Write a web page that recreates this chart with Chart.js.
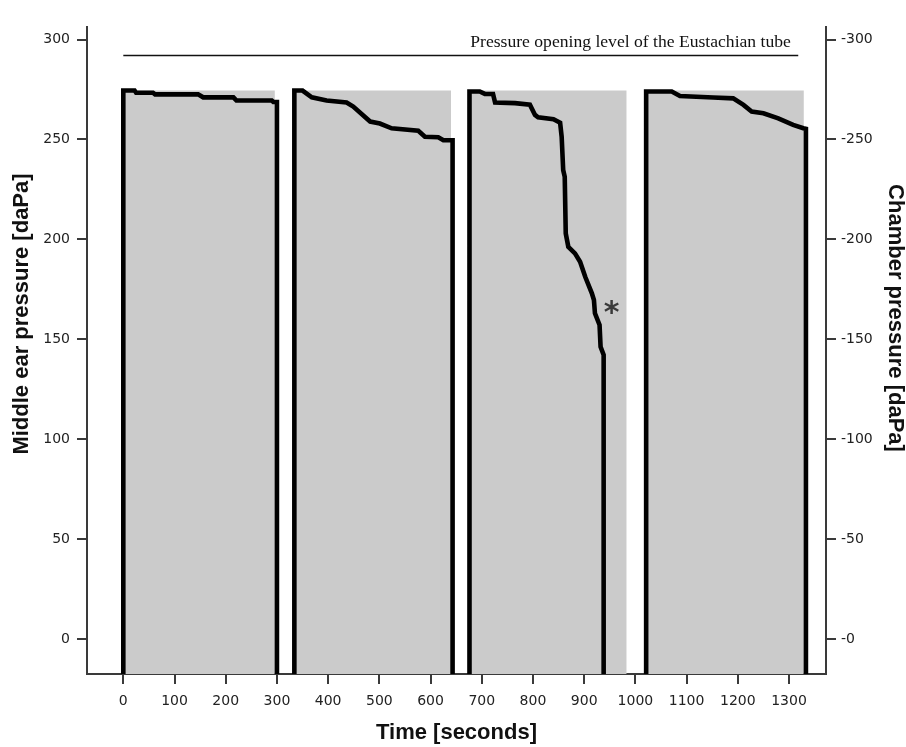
<!DOCTYPE html>
<html>
<head>
<meta charset="utf-8">
<script src="https://cdn.jsdelivr.net/npm/chart.js@4.4.1/dist/chart.umd.min.js"></script>
<style>
html,body{margin:0;padding:0;background:#ffffff;}
#wrap{width:906px;height:747px;position:relative;}
canvas{display:block;}
</style>
</head>
<body>
<div id="wrap"><canvas id="c" width="906" height="747"></canvas></div>
<script>
// ---- axis ranges & tick labels ----
const AXIS_FLOOR = -17.5;            // bottom of the pressure axis
const AXIS_CEIL = 306.3;
const TIME_MIN = -70.9;
const TIME_MAX = 1372.2;
const leftTicks = [0, 50, 100, 150, 200, 250, 300];
const rightTickLabels = ['-0', '-50', '-100', '-150', '-200', '-250', '-300'];
const timeTicks = [0, 100, 200, 300, 400, 500, 600, 700, 800, 900, 1000, 1100, 1200, 1300];

// ---- chamber pressure phases (grey blocks) ----
const phaseStart = [0, 334, 676, 1021];
const phaseEnd = [296, 640, 983, 1329];
const phaseLevel = 274.5;

// ---- middle ear pressure curves (4 runs) ----
const run1Time = [0, 0, 22, 25, 58, 62, 146, 156, 215, 221, 290, 293, 300, 300];
const run1Pressure = [AXIS_FLOOR, 274.5, 274.5, 273.4, 273.4, 272.6, 272.6, 271.1, 271.1, 269.5, 269.5, 268.8, 268.8, AXIS_FLOOR];

const run2Time = [334, 334, 350, 368, 397, 436, 449, 482, 501, 524, 576, 589, 615, 625, 643, 643];
const run2Pressure = [AXIS_FLOOR, 274.5, 274.5, 271.1, 269.5, 268.5, 266.5, 259, 258, 255.6, 254.4, 251.4, 251.1, 249.6, 249.6, AXIS_FLOOR];

const run3Time = [676, 676, 696, 706, 722, 726, 765, 794, 804, 810, 840, 853, 856, 859, 862, 864, 869, 882, 892, 902, 915, 919, 921, 930, 932, 938, 938];
const run3Pressure = [AXIS_FLOOR, 274, 274, 272.8, 272.8, 268.5, 268.2, 267.4, 262.3, 261.1, 260.1, 258.4, 251.4, 234.7, 231.4, 203, 196.3, 193, 188.8, 181.3, 173, 169.7, 163, 157.2, 146.3, 142.2, AXIS_FLOOR];

const run4Time = [1021, 1021, 1071, 1087, 1152, 1191, 1211, 1227, 1250, 1279, 1308, 1328, 1333, 1333];
const run4Pressure = [AXIS_FLOOR, 274, 274, 271.8, 271, 270.6, 267.3, 264, 263.1, 260.6, 257.3, 255.6, 255.3, AXIS_FLOOR];

// ---- Eustachian tube opening level ----
const openingLevel = 292;
const openingLineTime = [0, 1318];
const openingLabel = 'Pressure opening level of the Eustachian tube';
const openingLabelTime = 1303.5;
const openingLabelPressure = 296.4;

// ---- significance marker ----
const markerTime = 954;
const markerPressure = 166;

const yTitle = 'Middle ear pressure [daPa]';
const y2Title = 'Chamber pressure [daPa]';
const xTitle = 'Time [seconds]';

function pts(xs, ys) { return xs.map((x, i) => ({x: x, y: ys[i]})); }

const datasets = [];
const runs = [[run1Time, run1Pressure], [run2Time, run2Pressure], [run3Time, run3Pressure], [run4Time, run4Pressure]];
runs.forEach(r => {
  datasets.push({
    type: 'line', data: pts(r[0], r[1]), borderColor: '#000000', borderWidth: 4.6,
    pointRadius: 0, fill: false, tension: 0, order: 1, clip: 0,
    borderJoinStyle: 'miter', borderCapStyle: 'butt'
  });
});
datasets.push({
  type: 'line', data: pts(openingLineTime, [openingLevel, openingLevel]),
  borderColor: '#111111', borderWidth: 1.5, pointRadius: 0, fill: false, order: 1
});
phaseStart.forEach((s, i) => {
  datasets.push({
    type: 'line', data: pts([s, phaseEnd[i]], [phaseLevel, phaseLevel]),
    borderWidth: 0, borderColor: 'rgba(0,0,0,0)', backgroundColor: '#cbcbcb',
    pointRadius: 0, fill: 'start', order: 5
  });
});

const overlay = {
  id: 'overlay',
  afterDraw(chart) {
    const ctx = chart.ctx;
    const xs = chart.scales.x, ys = chart.scales.y;
    ctx.save();
    // opening level label
    ctx.font = '17.6px "Liberation Serif", "Times New Roman", serif';
    ctx.fillStyle = '#111111';
    ctx.textAlign = 'right';
    ctx.textBaseline = 'alphabetic';
    ctx.fillText(openingLabel, xs.getPixelForValue(openingLabelTime), ys.getPixelForValue(openingLabelPressure));
    // asterisk marker
    ctx.font = 'bold 30px "DejaVu Sans", sans-serif';
    ctx.fillStyle = '#3a3a3a';
    ctx.textAlign = 'left';
    const m = ctx.measureText('*');
    const cx = xs.getPixelForValue(markerTime), cy = ys.getPixelForValue(markerPressure);
    ctx.fillText('*', cx - (m.actualBoundingBoxRight - m.actualBoundingBoxLeft) / 2,
                 cy - (m.actualBoundingBoxDescent - m.actualBoundingBoxAscent) / 2);
    // y axis titles
    ctx.font = 'bold 22px "Liberation Sans", Arial, sans-serif';
    ctx.fillStyle = '#111111';
    ctx.textAlign = 'center';
    ctx.textBaseline = 'middle';
    ctx.save();
    ctx.translate(22, 314);
    ctx.rotate(-Math.PI / 2);
    ctx.fillText(yTitle, 0, 0);
    ctx.restore();
    ctx.save();
    ctx.translate(895, 318);
    ctx.rotate(Math.PI / 2);
    ctx.fillText(y2Title, 0, 0);
    ctx.restore();
    ctx.restore();
  }
};

const tickFont = {family: '"DejaVu Sans", sans-serif', size: 14};
const axisColor = '#3a3a3a';

new Chart(document.getElementById('c'), {
  type: 'line',
  data: {datasets: datasets},
  options: {
    responsive: false,
    animation: false,
    devicePixelRatio: 1,
    layout: {padding: {top: 27, left: 0, right: 0, bottom: 0}},
    plugins: {legend: {display: false}, tooltip: {enabled: false}},
    scales: {
      x: {
        type: 'linear', position: 'bottom', min: TIME_MIN, max: TIME_MAX, z: 1,
        afterBuildTicks: s => { s.ticks = timeTicks.map(v => ({value: v})); },
        afterFit: s => { s.height = 73; },
        ticks: {font: tickFont, color: '#222222', padding: 9, autoSkip: false, maxRotation: 0,
                callback: v => String(v)},
        grid: {display: true, drawOnChartArea: false, drawTicks: true, tickLength: 10, color: axisColor, lineWidth: 2},
        border: {display: true, color: axisColor, width: 2},
        title: {display: true, text: xTitle, color: '#111111', padding: {top: 0, bottom: 0.5},
                font: {family: '"Liberation Sans", Arial, sans-serif', size: 22, weight: 'bold'}}
      },
      y: {
        type: 'linear', position: 'left', min: AXIS_FLOOR, max: AXIS_CEIL, z: 1,
        afterBuildTicks: s => { s.ticks = leftTicks.map(v => ({value: v})); },
        afterFit: s => { s.width = 87; },
        ticks: {font: tickFont, color: '#222222', padding: 7, autoSkip: false, callback: v => String(v)},
        grid: {display: true, drawOnChartArea: false, drawTicks: true, tickLength: 10, color: axisColor, lineWidth: 2},
        border: {display: true, color: axisColor, width: 2}
      },
      y2: {
        type: 'linear', position: 'right', min: AXIS_FLOOR, max: AXIS_CEIL, z: 1,
        afterBuildTicks: s => { s.ticks = leftTicks.map(v => ({value: v})); },
        afterFit: s => { s.width = 80; },
        ticks: {font: tickFont, color: '#222222', padding: 5, autoSkip: false,
                callback: (v, i) => rightTickLabels[i]},
        grid: {display: true, drawOnChartArea: false, drawTicks: true, tickLength: 10, color: axisColor, lineWidth: 2},
        border: {display: true, color: axisColor, width: 2}
      }
    }
  },
  plugins: [overlay]
});
</script>
</body>
</html>
